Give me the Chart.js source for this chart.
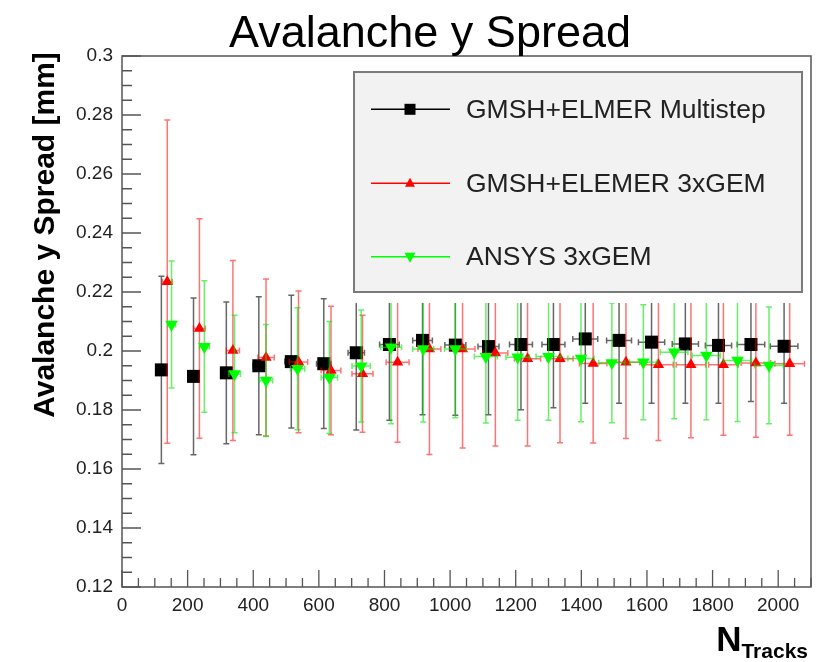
<!DOCTYPE html>
<html><head><meta charset="utf-8">
<script src="https://cdn.jsdelivr.net/npm/chart.js@4.4.0/dist/chart.umd.min.js"></script>
<style>html,body{margin:0;padding:0;background:#fff;} canvas{display:block;}</style>
</head><body>
<canvas id="c" width="834" height="662"></canvas>
<script>
const chartTitle = "Avalanche y Spread";
const yAxisTitle = "Avalanche y Spread [mm]";
const xAxisTitleMain = "N";
const xAxisTitleSub = "Tracks";
const seriesNames = ["GMSH+ELMER Multistep", "GMSH+ELEMER 3xGEM", "ANSYS 3xGEM"];

const xTickValues = [0, 200, 400, 600, 800, 1000, 1200, 1400, 1600, 1800, 2000];
const xTickLabels = ["0", "200", "400", "600", "800", "1000", "1200", "1400", "1600", "1800", "2000"];
const yTickValues = [0.12, 0.14, 0.16, 0.18, 0.2, 0.22, 0.24, 0.26, 0.28, 0.3];
const yTickLabels = ["0.12", "0.14", "0.16", "0.18", "0.2", "0.22", "0.24", "0.26", "0.28", "0.3"];

// GMSH+ELMER Multistep
const multiX  = [120, 218, 318, 417, 516, 615, 714, 815, 916, 1016, 1117, 1216, 1315, 1412, 1515, 1614, 1717, 1818, 1917, 2018];
const multiY  = [0.1936, 0.1914, 0.1926, 0.1950, 0.1964, 0.1957, 0.1994, 0.2022, 0.2036, 0.2020, 0.2015, 0.2022, 0.2022, 0.2041, 0.2036, 0.2030, 0.2024, 0.2019, 0.2022, 0.2016];
const multiEX = [10, 12, 15, 18, 20, 22, 25, 30, 30, 32, 32, 35, 35, 38, 38, 40, 40, 40, 42, 42];
const multiEY = [0.0317, 0.0266, 0.0240, 0.0234, 0.0225, 0.0220, 0.0262, 0.0257, 0.0252, 0.0238, 0.0231, 0.0221, 0.0214, 0.0218, 0.0213, 0.0207, 0.0201, 0.0196, 0.0193, 0.0193];

// GMSH+ELEMER 3xGEM
const gemX  = [138, 236, 338, 439, 538, 637, 733, 840, 937, 1038, 1138, 1236, 1335, 1436, 1536, 1635, 1734, 1833, 1932, 2035];
const gemY  = [0.2235, 0.2076, 0.2002, 0.1978, 0.1963, 0.1934, 0.1923, 0.1962, 0.2007, 0.2007, 0.1993, 0.1974, 0.1974, 0.1958, 0.1962, 0.1953, 0.1953, 0.1953, 0.1959, 0.1957];
const gemEX = [15, 18, 20, 25, 28, 30, 32, 35, 35, 38, 38, 40, 40, 42, 42, 45, 45, 45, 45, 45];
const gemEY = [0.0548, 0.0372, 0.0305, 0.0266, 0.0240, 0.0218, 0.0198, 0.0271, 0.0358, 0.0336, 0.0315, 0.0296, 0.0285, 0.0270, 0.0259, 0.0256, 0.0247, 0.0239, 0.0251, 0.0243];

// ANSYS 3xGEM
const ansysX  = [151, 251, 343, 439, 535, 632, 729, 820, 918, 1016, 1109, 1206, 1300, 1399, 1493, 1589, 1683, 1781, 1876, 1972];
const ansysY  = [0.2090, 0.2015, 0.1922, 0.1900, 0.1940, 0.1910, 0.1949, 0.2013, 0.2007, 0.2007, 0.1981, 0.1979, 0.1981, 0.1975, 0.1960, 0.1962, 0.1996, 0.1985, 0.1968, 0.1951];
const ansysEX = [12, 15, 18, 20, 22, 25, 28, 32, 32, 33, 35, 36, 38, 40, 40, 42, 42, 43, 43, 44];
const ansysEY = [0.0215, 0.0223, 0.0199, 0.0190, 0.0207, 0.0190, 0.0190, 0.0260, 0.0248, 0.0233, 0.0225, 0.0214, 0.0216, 0.0215, 0.0203, 0.0195, 0.0226, 0.0218, 0.0207, 0.0198];

const FONT = "'Liberation Sans', Arial, Helvetica, sans-serif";

function pts(xs, ys) { return xs.map((v, i) => ({x: v, y: ys[i]})); }

const errorBarPlugin = {
  id: 'errorBars',
  beforeDatasetDraw(chart, args) {
    const ds = chart.data.datasets[args.index];
    if (!ds.errX) return;
    const xs = chart.scales.x, ys = chart.scales.y, ctx = chart.ctx;
    ctx.save();
    ctx.strokeStyle = ds.errColor;
    ctx.lineWidth = 1.5;
    ds.data.forEach((p, i) => {
      const px = xs.getPixelForValue(p.x), py = ys.getPixelForValue(p.y);
      const y1 = ys.getPixelForValue(p.y + ds.errY[i]);
      const y2 = ys.getPixelForValue(p.y - ds.errY[i]);
      const x1 = xs.getPixelForValue(p.x - ds.errX[i]);
      const x2 = xs.getPixelForValue(p.x + ds.errX[i]);
      ctx.beginPath();
      ctx.moveTo(px, y1); ctx.lineTo(px, y2);
      ctx.moveTo(px - 3, y1); ctx.lineTo(px + 3, y1);
      ctx.moveTo(px - 3, y2); ctx.lineTo(px + 3, y2);
      ctx.moveTo(x1, py); ctx.lineTo(x2, py);
      ctx.moveTo(x1, py - 3); ctx.lineTo(x1, py + 3);
      ctx.moveTo(x2, py - 3); ctx.lineTo(x2, py + 3);
      ctx.stroke();
    });
    ctx.restore();
  }
};

function drawMarker(ctx, style, x, y, s, color) {
  ctx.fillStyle = color;
  ctx.beginPath();
  if (style === 'rect') {
    ctx.rect(x - s / 2, y - s / 2, s, s);
  } else if (style === 'up') {
    ctx.moveTo(x, y - s * 0.55); ctx.lineTo(x + s / 2, y + s * 0.35); ctx.lineTo(x - s / 2, y + s * 0.35);
  } else {
    ctx.moveTo(x, y + s * 0.55); ctx.lineTo(x + s / 2, y - s * 0.35); ctx.lineTo(x - s / 2, y - s * 0.35);
  }
  ctx.closePath();
  ctx.fill();
}

const decorPlugin = {
  id: 'decor',
  afterDatasetsDraw(chart) {
    const ctx = chart.ctx;
    // legend (opaque, drawn over the data)
    const lx = 354, ly = 72, lw = 448, lh = 220;
    ctx.save();
    ctx.fillStyle = '#ffffff';
    ctx.fillRect(lx - 2, ly - 2, lw + 4, lh + 13);
    ctx.fillStyle = '#f2f2f2';
    ctx.fillRect(lx, ly, lw, lh);
    ctx.strokeStyle = '#7a7a7a';
    ctx.lineWidth = 2;
    ctx.strokeRect(lx, ly, lw, lh);
    const rowY = [109.3, 183.3, 256.7];
    const styles = ['rect', 'up', 'down'];
    const sizes = [11, 10, 11];
    chart.data.datasets.forEach((ds, i) => {
      const y = rowY[i];
      ctx.strokeStyle = ds.lineColor;
      ctx.lineWidth = 1.5;
      ctx.beginPath(); ctx.moveTo(371, y); ctx.lineTo(450, y); ctx.stroke();
      drawMarker(ctx, styles[i], 410, y, sizes[i], ds.backgroundColor);
      ctx.fillStyle = '#222';
      ctx.font = '26.5px ' + FONT;
      ctx.textAlign = 'left';
      ctx.textBaseline = 'middle';
      ctx.fillText(ds.label, 466, y + 1);
    });
    ctx.restore();
  },
  afterDraw(chart) {
    const ctx = chart.ctx, a = chart.chartArea;
    const xs = chart.scales.x, ys = chart.scales.y;
    ctx.save();
    // frame
    ctx.strokeStyle = '#555';
    ctx.lineWidth = 1.5;
    ctx.strokeRect(a.left, a.top, a.right - a.left, a.bottom - a.top);
    // inward ticks
    ctx.lineWidth = 1.3;
    ctx.beginPath();
    for (let v = 0; v <= xs.max + 1e-9; v += 50) {
      const px = xs.getPixelForValue(v);
      const major = xTickValues.includes(v);
      const len = major ? 17 : 9;
      ctx.moveTo(px, a.bottom); ctx.lineTo(px, a.bottom - len);
    }
    for (let k = 0; k <= 36; k++) {
      const v = ys.min + k * 0.005;
      const py = ys.getPixelForValue(v);
      const len = (k % 4 === 0) ? 19 : 10;
      ctx.moveTo(a.left, py); ctx.lineTo(a.left + len, py);
    }
    ctx.stroke();
    // main title
    ctx.fillStyle = '#000';
    ctx.font = '45px ' + FONT;
    ctx.textAlign = 'center';
    ctx.textBaseline = 'alphabetic';
    ctx.fillText(chartTitle, 430, 47);
    // y axis title
    ctx.save();
    ctx.translate(54, 235);
    ctx.rotate(-Math.PI / 2);
    ctx.font = 'bold 30px ' + FONT;
    ctx.textAlign = 'center';
    ctx.fillText(yAxisTitle, 0, 0);
    ctx.restore();
    // x axis title with subscript
    ctx.textAlign = 'right';
    ctx.font = 'bold 21px ' + FONT;
    const wSub = ctx.measureText(xAxisTitleSub).width;
    ctx.fillText(xAxisTitleSub, 808, 658);
    ctx.font = 'bold 35px ' + FONT;
    ctx.fillText(xAxisTitleMain, 808 - wSub, 651);
    ctx.restore();
  }
};

new Chart(document.getElementById('c'), {
  type: 'scatter',
  data: {
    datasets: [
      { label: seriesNames[0], data: pts(multiX, multiY), errX: multiEX, errY: multiEY,
        pointStyle: 'rect', pointRadius: 9.2, backgroundColor: '#000000', borderWidth: 0,
        errColor: 'rgba(0,0,0,0.6)', lineColor: '#000000', order: 3, showLine: false },
      { label: seriesNames[1], data: pts(gemX, gemY), errX: gemEX, errY: gemEY,
        pointStyle: 'triangle', pointRadius: 6.5, backgroundColor: '#ff0000', borderWidth: 0,
        errColor: 'rgba(255,0,0,0.55)', lineColor: '#ff0000', order: 2, showLine: false },
      { label: seriesNames[2], data: pts(ansysX, ansysY), errX: ansysEX, errY: ansysEY,
        pointStyle: 'triangle', pointRotation: 180, pointRadius: 7.3, backgroundColor: '#00ff00', borderWidth: 0,
        errColor: 'rgba(0,230,0,0.6)', lineColor: '#00ff00', order: 1, showLine: false }
    ]
  },
  options: {
    responsive: false,
    animation: false,
    devicePixelRatio: 1,
    layout: { padding: { left: 0, right: 23, top: 56, bottom: 0 } },
    plugins: { legend: { display: false }, tooltip: { enabled: false }, title: { display: false } },
    scales: {
      x: {
        type: 'linear', min: 0, max: 2100,
        grid: { display: false, drawTicks: false }, border: { display: false },
        afterBuildTicks: s => { s.ticks = xTickValues.map(v => ({ value: v })); },
        afterFit: s => { s.height = 75; },
        ticks: { color: '#222', padding: 7, maxRotation: 0, autoSkip: false,
          font: { family: FONT, size: 19 },
          callback: v => xTickLabels[xTickValues.indexOf(v)] }
      },
      y: {
        type: 'linear', min: 0.12, max: 0.3,
        grid: { display: false, drawTicks: false }, border: { display: false },
        afterBuildTicks: s => { s.ticks = yTickValues.map(v => ({ value: v })); },
        afterFit: s => { s.width = 122; },
        ticks: { color: '#222', padding: 9, autoSkip: false,
          font: { family: FONT, size: 19 },
          callback: (v, i) => yTickLabels[i] }
      }
    }
  },
  plugins: [errorBarPlugin, decorPlugin]
});
</script>
</body></html>
